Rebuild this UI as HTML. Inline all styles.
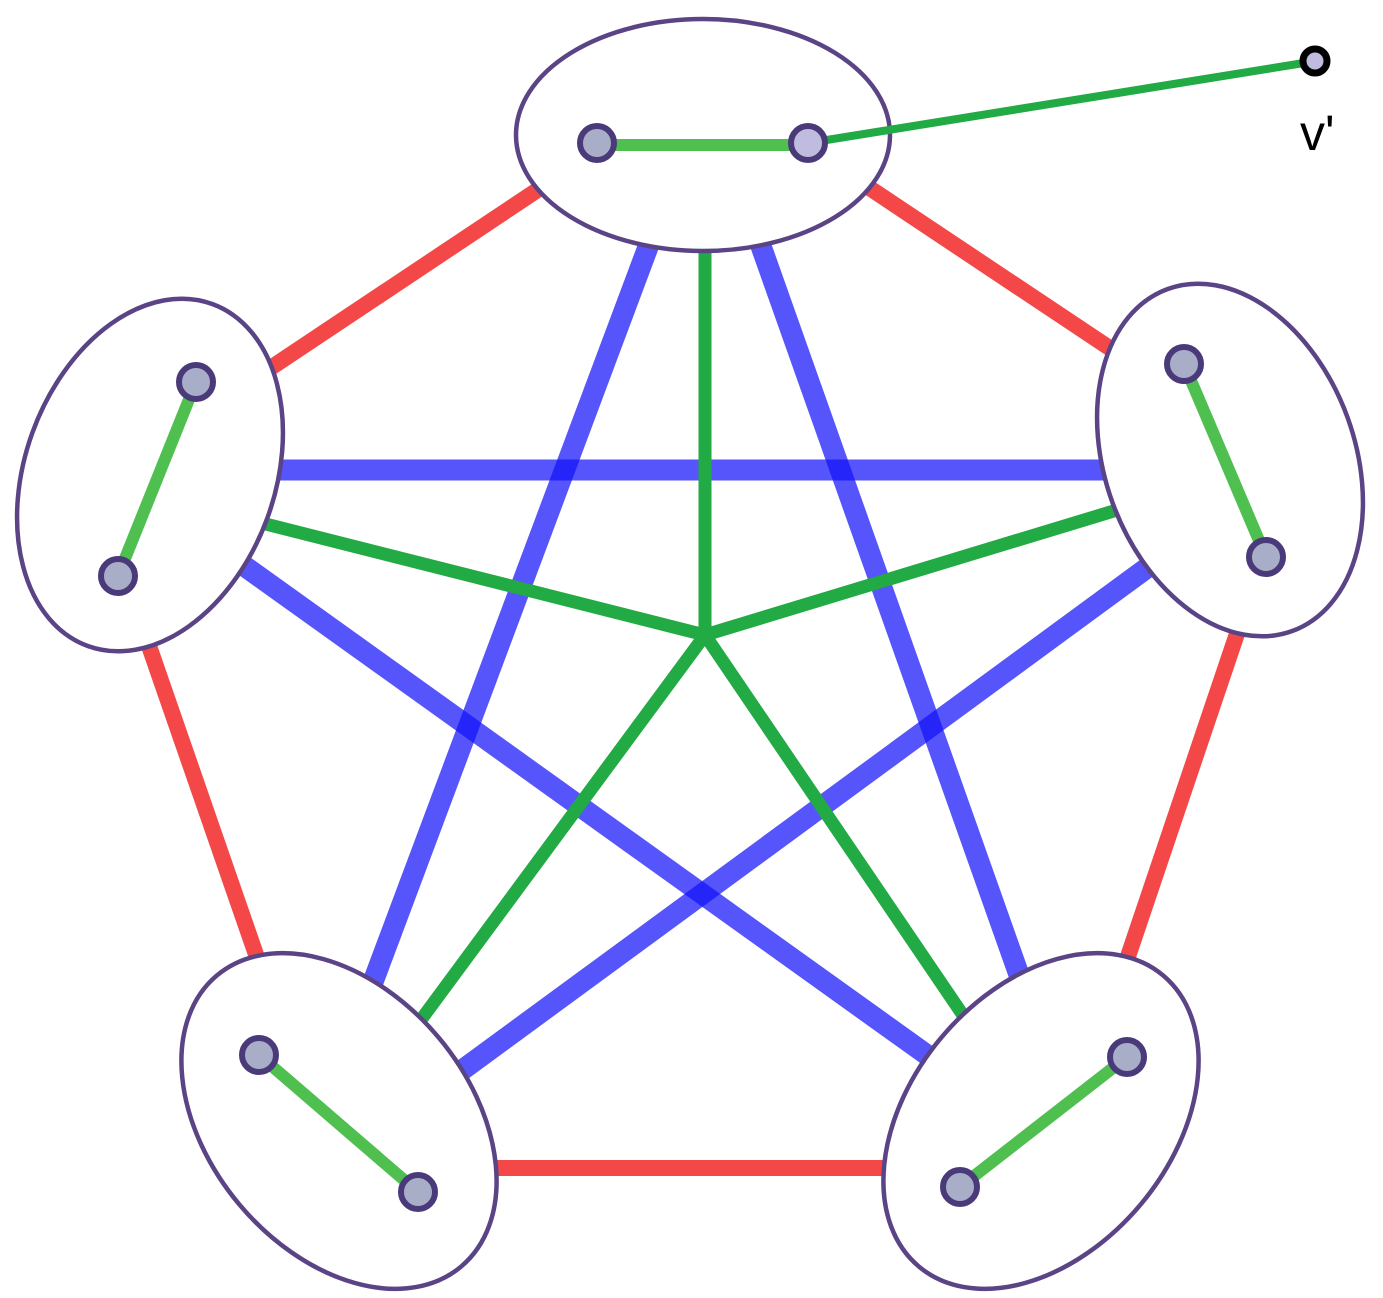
<!DOCTYPE html>
<html><head><style>body{margin:0;background:#fff}</style></head><body>
<svg width="1383" height="1293" viewBox="0 0 1383 1293" xmlns="http://www.w3.org/2000/svg">
<g stroke="#f44848" stroke-width="16" stroke-linecap="butt">
<line x1="560" y1="175" x2="260" y2="375"/>
<line x1="850" y1="175" x2="1120" y2="355"/>
<line x1="140" y1="620" x2="270" y2="995"/>
<line x1="1245" y1="610" x2="1115" y2="995"/>
<line x1="470" y1="1168" x2="905" y2="1168"/>
</g>
<g stroke="rgb(20,20,250)" stroke-opacity="0.72" stroke-width="21">
<line x1="660" y1="215" x2="355" y2="1030"/>
<line x1="750" y1="215" x2="1035" y2="1020"/>
<line x1="250" y1="470" x2="1135" y2="470"/>
<line x1="215" y1="545" x2="955" y2="1075"/>
<line x1="1185" y1="540" x2="435" y2="1090"/>
</g>
<g stroke="#22aa44" stroke-width="13" stroke-linecap="round">
<line x1="705" y1="635" x2="705" y2="220"/>
<line x1="705" y1="635" x2="230" y2="515"/>
<line x1="705" y1="635" x2="1150" y2="500"/>
<line x1="705" y1="635" x2="395" y2="1055"/>
<line x1="705" y1="635" x2="990" y2="1055"/>
</g>
<g fill="#fff" stroke="#5a4486" stroke-width="4.5">
<ellipse cx="703" cy="135" rx="187" ry="116"/>
<ellipse cx="150" cy="475" rx="125" ry="182" transform="rotate(20 150 475)"/>
<ellipse cx="1230" cy="460" rx="125" ry="182" transform="rotate(-20 1230 460)"/>
<ellipse cx="339" cy="1121" rx="130" ry="190" transform="rotate(-40 339 1121)"/>
<ellipse cx="1041" cy="1121" rx="130" ry="190" transform="rotate(40 1041 1121)"/>
</g>
<g stroke="#4fbf4f" stroke-width="12">
<line x1="597" y1="145" x2="808" y2="145"/>
<line x1="196" y1="382" x2="118" y2="576"/>
<line x1="1184" y1="364" x2="1266" y2="557"/>
<line x1="259" y1="1055" x2="418" y2="1192"/>
<line x1="1127" y1="1057" x2="960" y2="1187"/>
</g>
<line x1="808" y1="143" x2="1310" y2="62" stroke="#22aa44" stroke-width="8"/>
<g fill="#a8aec8" stroke="#4a3a7a" stroke-width="6">
<circle cx="597" cy="143" r="17"/>
<circle cx="808" cy="143" r="17" fill="#c0bce0"/>
<circle cx="196" cy="382" r="17"/>
<circle cx="118" cy="576" r="17"/>
<circle cx="1184" cy="364" r="17"/>
<circle cx="1266" cy="557" r="17"/>
<circle cx="259" cy="1055" r="17"/>
<circle cx="418" cy="1192" r="17"/>
<circle cx="1127" cy="1057" r="17"/>
<circle cx="960" cy="1187" r="17"/>
</g>
<circle cx="1315" cy="61" r="12" fill="#c0bce0" stroke="#000" stroke-width="7"/>
<text x="1300" y="150" font-family="Liberation Sans, sans-serif" font-size="50">v'</text>
</svg>
</body></html>
